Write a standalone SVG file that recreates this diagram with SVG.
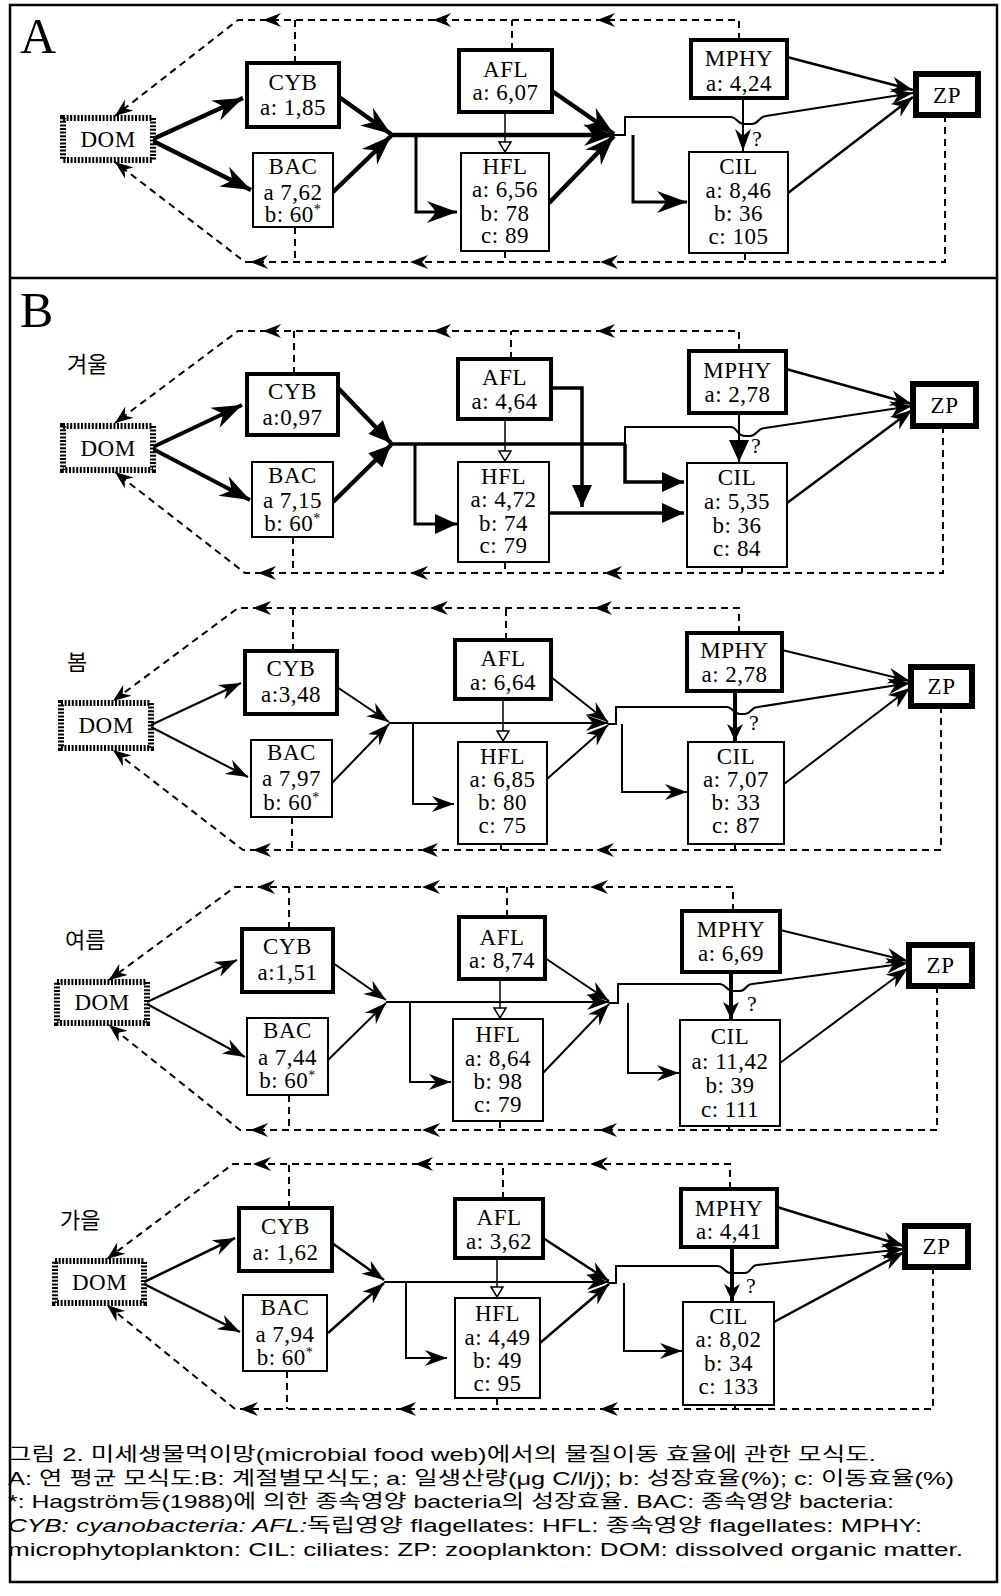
<svg xmlns="http://www.w3.org/2000/svg" xmlns:xlink="http://www.w3.org/1999/xlink" width="1001" height="1596" viewBox="0 0 1001 1596">
<style>
.box{fill:#fff;stroke:#000;stroke-width:2}
.bx2{fill:#fff;stroke:#000;stroke-width:4}
.zp{fill:#fff;stroke:#000;stroke-width:6}
.dom{fill:#fff;stroke:#000;stroke-width:6;stroke-dasharray:2 1.6}
.t{font-family:"Liberation Serif","DejaVu Serif",serif;font-size:23px;letter-spacing:0.5px;text-anchor:middle;fill:#000}
.q{font-family:"Liberation Serif","DejaVu Serif",serif;font-size:22px;text-anchor:middle;fill:#000}
.big{font-family:"Liberation Serif","DejaVu Serif",serif;font-size:50px;fill:#000}
.kr{font-family:"Noto Sans CJK KR",sans-serif;font-size:22px;fill:#000}
.cap{font-family:"Liberation Sans","Noto Sans CJK KR",sans-serif;font-size:19px;fill:#000}
.d{fill:none;stroke:#000;stroke-width:2;stroke-dasharray:7 5}
.s{fill:none;stroke:#000;stroke-width:2}
.s25{fill:none;stroke:#000;stroke-width:2.5}
.s3{fill:none;stroke:#000;stroke-width:3}
.s35{fill:none;stroke:#000;stroke-width:3.5}
.s4{fill:none;stroke:#000;stroke-width:4}
.s45{fill:none;stroke:#000;stroke-width:4.5}
.s15{fill:none;stroke:#000;stroke-width:1.5}
</style>
<defs>
<marker id="mA" viewBox="-32 -13 34 26" refX="0" refY="0" markerWidth="34" markerHeight="26" markerUnits="userSpaceOnUse" orient="auto">
<path d="M0,0 L-30,-11 Q-23,-3 -21,0 Q-23,3 -30,11 Z" fill="#000"/>
</marker>
<marker id="mB" viewBox="-24 -10 26 20" refX="0" refY="0" markerWidth="26" markerHeight="20" markerUnits="userSpaceOnUse" orient="auto">
<path d="M0,0 L-22,-8 Q-17,-2 -15,0 Q-17,2 -22,8 Z" fill="#000"/>
</marker>
<marker id="mT" viewBox="-24 -12 26 24" refX="0" refY="0" markerWidth="26" markerHeight="24" markerUnits="userSpaceOnUse" orient="auto">
<path d="M0,0 L-22,-10 L-22,10 Z" fill="#000"/>
</marker>
<marker id="mF" viewBox="-20 -10 22 20" refX="0" refY="0" markerWidth="22" markerHeight="20" markerUnits="userSpaceOnUse" orient="auto">
<path d="M0,0 L-17,-8 L-12,0 L-17,8 Z" fill="#000"/>
</marker>
<marker id="mV" viewBox="-12 -8 14 16" refX="0" refY="0" markerWidth="14" markerHeight="16" markerUnits="userSpaceOnUse" orient="auto">
<path d="M0,0 L-10,-6 L-10,6 Z" fill="#fff" stroke="#000" stroke-width="1.5"/>
</marker>
<marker id="mD" viewBox="-20 -9 22 18" refX="0" refY="0" markerWidth="22" markerHeight="18" markerUnits="userSpaceOnUse" orient="auto">
<path d="M0,0 L-18,-7 Q-14,-2 -12,0 Q-14,2 -18,7 Z" fill="#000"/>
</marker>
<path id="dh" d="M0,0 L18,-7 Q14,-2 12,0 Q14,2 18,7 Z" fill="#000"/>
</defs>

<rect x="10" y="5" width="987" height="1577" fill="#fff" stroke="#000" stroke-width="2.5"/>
<line x1="10" y1="278" x2="997" y2="278" stroke="#000" stroke-width="2.5"/>
<text class="big" x="20" y="53">A</text>
<text class="big" x="20" y="327">B</text>
<text class="kr" x="67" y="372">겨울</text>
<text class="kr" x="67" y="670">봄</text>
<text class="kr" x="65" y="948">여름</text>
<text class="kr" x="60" y="1228">가을</text>

<!-- ================= connectors ================= -->
<g id="connectors">
<!-- Panel A dashed recycling -->
<path class="d" d="M739,40 V20 H238 L115,116" marker-end="url(#mD)"/>
<path class="d" d="M295,63 V20 M512,50 V20"/>
<path class="d" d="M945,115 V262 H245 L115,162" marker-end="url(#mD)"/>
<path class="d" d="M295,227 V262 M505,251 V262 M745,253 V262"/>
<use xlink:href="#dh" href="#dh" transform="translate(263,20)"/>
<use xlink:href="#dh" href="#dh" transform="translate(433,20)"/>
<use xlink:href="#dh" href="#dh" transform="translate(597,20)"/>
<use xlink:href="#dh" href="#dh" transform="translate(250,262)"/>
<use xlink:href="#dh" href="#dh" transform="translate(410,262)"/>
<use xlink:href="#dh" href="#dh" transform="translate(600,262)"/>
<!-- Panel A solid -->
<path class="s45" d="M153,139 L243,98" marker-end="url(#mA)"/>
<path class="s45" d="M153,141 L251,190" marker-end="url(#mA)"/>
<path class="s45" d="M339,97 L391,134" marker-end="url(#mA)"/>
<path class="s45" d="M333,192 L391,136" marker-end="url(#mA)"/>
<path class="s45" d="M390,135 H614" marker-end="url(#mA)"/>
<path class="s45" d="M552,91 L614,134" marker-end="url(#mA)"/>
<path class="s45" d="M549,203 L614,136" marker-end="url(#mA)"/>
<path class="s3" d="M416,135 V212 H457" marker-end="url(#mA)"/>
<path class="s3" d="M633,135 V202 H687" marker-end="url(#mA)"/>
<path class="s15" d="M505,112 V152" marker-end="url(#mV)"/>
<path class="s" d="M614,135 H625 V117 H731 C737,117 737,124 744,124 H752 C759,124 759,116 766,116 L913,93" marker-end="url(#mB)"/>
<path class="s" d="M743,98 V151" marker-end="url(#mB)"/>
<path class="s25" d="M787,57 L913,90" marker-end="url(#mB)"/>
<path class="s25" d="M788,193 L913,97" marker-end="url(#mB)"/>

<!-- Winter dashed -->
<path class="d" d="M739,351 V331 H238 L115,423" marker-end="url(#mD)"/>
<path class="d" d="M294,374 V331 M511,359 V331"/>
<path class="d" d="M943,426 V573 H245 L115,472" marker-end="url(#mD)"/>
<path class="d" d="M293,537 V573 M505,562 V573 M742,567 V573"/>
<use xlink:href="#dh" href="#dh" transform="translate(263,331)"/>
<use xlink:href="#dh" href="#dh" transform="translate(433,331)"/>
<use xlink:href="#dh" href="#dh" transform="translate(597,331)"/>
<use xlink:href="#dh" href="#dh" transform="translate(258,573)"/>
<use xlink:href="#dh" href="#dh" transform="translate(410,573)"/>
<use xlink:href="#dh" href="#dh" transform="translate(604,573)"/>
<!-- Winter solid -->
<path class="s4" d="M153,447 L242,405" marker-end="url(#mA)"/>
<path class="s4" d="M153,449 L250,500" marker-end="url(#mA)"/>
<path class="s45" d="M338,388 L391,443" marker-end="url(#mT)"/>
<path class="s45" d="M333,502 L391,445" marker-end="url(#mT)"/>
<path class="s35" d="M390,444 H625"/>
<path class="s35" d="M625,444 V482 H684" marker-end="url(#mT)"/>
<path class="s3" d="M415,444 V524 H457" marker-end="url(#mT)"/>
<path class="s35" d="M551,388 H582 V507" marker-end="url(#mT)"/>
<path class="s35" d="M549,513 H684" marker-end="url(#mT)"/>
<path class="s15" d="M505,419 V461" marker-end="url(#mV)"/>
<path class="s" d="M625,444 V427 H731 C737,427 737,436 745,436 H750 C757,436 757,428 765,428 L912,406" marker-end="url(#mB)"/>
<path class="s" d="M739,413 V462" marker-end="url(#mT)"/>
<path class="s25" d="M786,369 L912,404" marker-end="url(#mB)"/>
<path class="s25" d="M787,503 L912,410" marker-end="url(#mB)"/>

<!-- Spring dashed -->
<path class="d" d="M739,633 V608 H238 L113,701" marker-end="url(#mD)"/>
<path class="d" d="M293,651 V608 M506,640 V608"/>
<path class="d" d="M941,706 V850 H243 L113,750" marker-end="url(#mD)"/>
<path class="d" d="M292,817 V850 M501,844 V850 M735,844 V850"/>
<use xlink:href="#dh" href="#dh" transform="translate(253,608)"/>
<use xlink:href="#dh" href="#dh" transform="translate(430,608)"/>
<use xlink:href="#dh" href="#dh" transform="translate(594,608)"/>
<use xlink:href="#dh" href="#dh" transform="translate(253,850)"/>
<use xlink:href="#dh" href="#dh" transform="translate(420,850)"/>
<use xlink:href="#dh" href="#dh" transform="translate(596,850)"/>
<!-- Spring solid -->
<path class="s" d="M151,725 L241,683" marker-end="url(#mB)"/>
<path class="s" d="M151,727 L248,777" marker-end="url(#mB)"/>
<path class="s" d="M337,687 L389,722" marker-end="url(#mB)"/>
<path class="s" d="M332,783 L389,724" marker-end="url(#mB)"/>
<path class="s" d="M389,723 H608" marker-end="url(#mB)"/>
<path class="s" d="M413,723 V804 H454" marker-end="url(#mB)"/>
<path class="s15" d="M503,699 V741" marker-end="url(#mV)"/>
<path class="s" d="M551,677 L608,722" marker-end="url(#mB)"/>
<path class="s" d="M547,779 L608,725" marker-end="url(#mB)"/>
<path class="s" d="M608,724 H616 V707 H727 C733,707 733,714 740,714 H745 C751,714 751,707 758,707 L910,683" marker-end="url(#mB)"/>
<path class="s" d="M622,724 V792 H687" marker-end="url(#mB)"/>
<path class="s4" d="M735,691 V741" marker-end="url(#mF)"/>
<path class="s" d="M782,650 L910,681" marker-end="url(#mB)"/>
<path class="s" d="M784,784 L910,688" marker-end="url(#mB)"/>

<!-- Summer dashed -->
<path class="d" d="M733,911 V887 H235 L109,980" marker-end="url(#mD)"/>
<path class="d" d="M289,929 V887 M507,917 V887"/>
<path class="d" d="M937,986 V1130 H240 L109,1025" marker-end="url(#mD)"/>
<path class="d" d="M289,1095 V1130 M500,1121 V1130 M729,1126 V1130"/>
<use xlink:href="#dh" href="#dh" transform="translate(257,887)"/>
<use xlink:href="#dh" href="#dh" transform="translate(422,887)"/>
<use xlink:href="#dh" href="#dh" transform="translate(590,887)"/>
<use xlink:href="#dh" href="#dh" transform="translate(250,1130)"/>
<use xlink:href="#dh" href="#dh" transform="translate(422,1130)"/>
<use xlink:href="#dh" href="#dh" transform="translate(599,1130)"/>
<!-- Summer solid -->
<path class="s" d="M147,1002 L237,960" marker-end="url(#mB)"/>
<path class="s" d="M147,1004 L245,1057" marker-end="url(#mB)"/>
<path class="s" d="M333,963 L386,1000" marker-end="url(#mB)"/>
<path class="s" d="M328,1060 L386,1003" marker-end="url(#mB)"/>
<path class="s" d="M386,1002 H609" marker-end="url(#mB)"/>
<path class="s" d="M410,1002 V1082 H451" marker-end="url(#mB)"/>
<path class="s15" d="M500,979 V1018" marker-end="url(#mV)"/>
<path class="s" d="M545,958 L609,1001" marker-end="url(#mB)"/>
<path class="s" d="M543,1073 L609,1004" marker-end="url(#mB)"/>
<path class="s" d="M609,1003 H618 V984 H720 C726,984 726,991 733,991 H740 C746,991 746,984 752,984 L908,963" marker-end="url(#mB)"/>
<path class="s" d="M628,1003 V1073 H679" marker-end="url(#mB)"/>
<path class="s4" d="M731,972 V1019" marker-end="url(#mF)"/>
<path class="s" d="M780,930 L908,961" marker-end="url(#mB)"/>
<path class="s" d="M780,1063 L908,968" marker-end="url(#mB)"/>

<!-- Autumn dashed -->
<path class="d" d="M730,1189 V1164 H233 L107,1259" marker-end="url(#mD)"/>
<path class="d" d="M289,1208 V1164 M503,1199 V1164"/>
<path class="d" d="M933,1267 V1409 H235 L107,1305" marker-end="url(#mD)"/>
<path class="d" d="M287,1371 V1409 M497,1398 V1409 M735,1405 V1409"/>
<use xlink:href="#dh" href="#dh" transform="translate(253,1164)"/>
<use xlink:href="#dh" href="#dh" transform="translate(415,1164)"/>
<use xlink:href="#dh" href="#dh" transform="translate(590,1164)"/>
<use xlink:href="#dh" href="#dh" transform="translate(240,1409)"/>
<use xlink:href="#dh" href="#dh" transform="translate(398,1409)"/>
<use xlink:href="#dh" href="#dh" transform="translate(600,1409)"/>
<!-- Autumn solid -->
<path class="s25" d="M144,1282 L235,1238" marker-end="url(#mB)"/>
<path class="s25" d="M144,1284 L240,1332" marker-end="url(#mB)"/>
<path class="s25" d="M332,1243 L384,1280" marker-end="url(#mB)"/>
<path class="s25" d="M328,1333 L384,1283" marker-end="url(#mB)"/>
<path class="s" d="M384,1282 H609" marker-end="url(#mB)"/>
<path class="s" d="M406,1282 V1358 H447" marker-end="url(#mB)"/>
<path class="s15" d="M497,1258 V1297" marker-end="url(#mV)"/>
<path class="s25" d="M543,1238 L609,1281" marker-end="url(#mB)"/>
<path class="s25" d="M540,1343 L609,1284" marker-end="url(#mB)"/>
<path class="s" d="M609,1283 H616 V1266 H718 C724,1266 724,1273 731,1273 H745 C751,1273 751,1265 757,1265 L904,1249" marker-end="url(#mB)"/>
<path class="s" d="M624,1283 V1351 H682" marker-end="url(#mB)"/>
<path class="s4" d="M732,1247 V1301" marker-end="url(#mF)"/>
<path class="s25" d="M777,1207 L904,1246" marker-end="url(#mB)"/>
<path class="s25" d="M774,1322 L904,1252" marker-end="url(#mB)"/>
</g>

<!-- question marks -->
<text class="q" x="757" y="146">?</text>
<text class="q" x="756" y="453">?</text>
<text class="q" x="754" y="730">?</text>
<text class="q" x="752" y="1011">?</text>
<text class="q" x="751" y="1293">?</text>

<!-- ================= nodes: Panel A ================= -->
<g id="A-DOM"><rect class="dom" x="63" y="118" width="90" height="42"/><text class="t" x="108" y="147">DOM</text></g>
<g id="A-CYB"><rect class="bx2" x="247" y="63" width="92" height="64"/><text class="t" x="293" y="90">CYB</text><text class="t" x="293" y="115">a: 1,85</text></g>
<g id="A-BAC"><rect class="box" x="253" y="153" width="80" height="74"/><text class="t" x="293" y="174">BAC</text><text class="t" x="293" y="200">a 7,62</text><text class="t" x="293" y="222">b: 60<tspan font-size="14" dy="-8">*</tspan></text></g>
<g id="A-AFL"><rect class="bx2" x="459" y="50" width="93" height="62"/><text class="t" x="505.5" y="77">AFL</text><text class="t" x="505.5" y="100">a: 6,07</text></g>
<g id="A-HFL"><rect class="box" x="461" y="153" width="88" height="98"/><text class="t" x="505" y="174">HFL</text><text class="t" x="505" y="197">a: 6,56</text><text class="t" x="505" y="221">b: 78</text><text class="t" x="505" y="243">c: 89</text></g>
<g id="A-MPHY"><rect class="bx2" x="691" y="40" width="96" height="58"/><text class="t" x="739" y="66">MPHY</text><text class="t" x="739" y="91">a: 4,24</text></g>
<g id="A-CIL"><rect class="box" x="689" y="152" width="99" height="101"/><text class="t" x="738.5" y="174">CIL</text><text class="t" x="738.5" y="198">a: 8,46</text><text class="t" x="738.5" y="221">b: 36</text><text class="t" x="738.5" y="244">c: 105</text></g>
<g id="A-ZP"><rect class="zp" x="916" y="74" width="62" height="41"/><text class="t" x="947" y="103">ZP</text></g>

<!-- Winter -->
<g id="W-DOM"><rect class="dom" x="63" y="426" width="90" height="44"/><text class="t" x="108" y="456">DOM</text></g>
<g id="W-CYB"><rect class="bx2" x="247" y="374" width="91" height="61"/><text class="t" x="292.5" y="399">CYB</text><text class="t" x="292.5" y="425">a:0,97</text></g>
<g id="W-BAC"><rect class="box" x="252" y="462" width="81" height="75"/><text class="t" x="292.5" y="483">BAC</text><text class="t" x="292.5" y="508">a 7,15</text><text class="t" x="292.5" y="531">b: 60<tspan font-size="14" dy="-8">*</tspan></text></g>
<g id="W-AFL"><rect class="bx2" x="458" y="359" width="93" height="60"/><text class="t" x="504.5" y="385">AFL</text><text class="t" x="504.5" y="409">a: 4,64</text></g>
<g id="W-HFL"><rect class="box" x="458" y="462" width="91" height="100"/><text class="t" x="503.5" y="484">HFL</text><text class="t" x="503.5" y="507">a: 4,72</text><text class="t" x="503.5" y="531">b: 74</text><text class="t" x="503.5" y="553">c: 79</text></g>
<g id="W-MPHY"><rect class="bx2" x="689" y="351" width="97" height="62"/><text class="t" x="737.5" y="378">MPHY</text><text class="t" x="737.5" y="402">a: 2,78</text></g>
<g id="W-CIL"><rect class="box" x="687" y="463" width="100" height="104"/><text class="t" x="737" y="485">CIL</text><text class="t" x="737" y="509">a: 5,35</text><text class="t" x="737" y="533">b: 36</text><text class="t" x="737" y="556">c: 84</text></g>
<g id="W-ZP"><rect class="zp" x="913" y="384" width="63" height="42"/><text class="t" x="944.5" y="413">ZP</text></g>

<!-- Spring -->
<g id="S-DOM"><rect class="dom" x="61" y="703" width="90" height="45"/><text class="t" x="106" y="733">DOM</text></g>
<g id="S-CYB"><rect class="bx2" x="245" y="651" width="92" height="63"/><text class="t" x="291" y="676">CYB</text><text class="t" x="291" y="702">a:3,48</text></g>
<g id="S-BAC"><rect class="box" x="251" y="740" width="81" height="77"/><text class="t" x="291.5" y="760">BAC</text><text class="t" x="291.5" y="786">a 7,97</text><text class="t" x="291.5" y="810">b: 60<tspan font-size="14" dy="-8">*</tspan></text></g>
<g id="S-AFL"><rect class="bx2" x="455" y="640" width="96" height="59"/><text class="t" x="503" y="666">AFL</text><text class="t" x="503" y="690">a: 6,64</text></g>
<g id="S-HFL"><rect class="box" x="458" y="742" width="89" height="102"/><text class="t" x="502.5" y="764">HFL</text><text class="t" x="502.5" y="787">a: 6,85</text><text class="t" x="502.5" y="810">b: 80</text><text class="t" x="502.5" y="833">c: 75</text></g>
<g id="S-MPHY"><rect class="bx2" x="687" y="633" width="95" height="58"/><text class="t" x="734.5" y="658">MPHY</text><text class="t" x="734.5" y="682">a: 2,78</text></g>
<g id="S-CIL"><rect class="box" x="688" y="742" width="96" height="102"/><text class="t" x="736" y="764">CIL</text><text class="t" x="736" y="787">a: 7,07</text><text class="t" x="736" y="810">b: 33</text><text class="t" x="736" y="833">c: 87</text></g>
<g id="S-ZP"><rect class="zp" x="911" y="667" width="61" height="39"/><text class="t" x="941.5" y="694">ZP</text></g>

<!-- Summer -->
<g id="U-DOM"><rect class="dom" x="57" y="982" width="90" height="41"/><text class="t" x="102" y="1010">DOM</text></g>
<g id="U-CYB"><rect class="bx2" x="242" y="929" width="91" height="63"/><text class="t" x="287.5" y="954">CYB</text><text class="t" x="287.5" y="980">a:1,51</text></g>
<g id="U-BAC"><rect class="box" x="247" y="1018" width="81" height="77"/><text class="t" x="287.5" y="1038">BAC</text><text class="t" x="287.5" y="1065">a 7,44</text><text class="t" x="287.5" y="1088">b: 60<tspan font-size="14" dy="-8">*</tspan></text></g>
<g id="U-AFL"><rect class="bx2" x="459" y="917" width="86" height="62"/><text class="t" x="502" y="945">AFL</text><text class="t" x="502" y="968">a: 8,74</text></g>
<g id="U-HFL"><rect class="box" x="453" y="1019" width="90" height="102"/><text class="t" x="498" y="1042">HFL</text><text class="t" x="498" y="1066">a: 8,64</text><text class="t" x="498" y="1089">b: 98</text><text class="t" x="498" y="1112">c: 79</text></g>
<g id="U-MPHY"><rect class="bx2" x="682" y="911" width="98" height="61"/><text class="t" x="731" y="937">MPHY</text><text class="t" x="731" y="961">a: 6,69</text></g>
<g id="U-CIL"><rect class="box" x="680" y="1020" width="100" height="106"/><text class="t" x="730" y="1044">CIL</text><text class="t" x="730" y="1069">a: 11,42</text><text class="t" x="730" y="1093">b: 39</text><text class="t" x="730" y="1117">c: 111</text></g>
<g id="U-ZP"><rect class="zp" x="909" y="945" width="63" height="41"/><text class="t" x="940.5" y="973">ZP</text></g>

<!-- Autumn -->
<g id="F-DOM"><rect class="dom" x="55" y="1261" width="89" height="42"/><text class="t" x="99.5" y="1290">DOM</text></g>
<g id="F-CYB"><rect class="bx2" x="239" y="1208" width="93" height="63"/><text class="t" x="285.5" y="1234">CYB</text><text class="t" x="285.5" y="1260">a: 1,62</text></g>
<g id="F-BAC"><rect class="box" x="243" y="1295" width="84" height="76"/><text class="t" x="285" y="1315">BAC</text><text class="t" x="285" y="1342">a 7,94</text><text class="t" x="285" y="1365">b: 60<tspan font-size="14" dy="-8">*</tspan></text></g>
<g id="F-AFL"><rect class="bx2" x="455" y="1199" width="88" height="59"/><text class="t" x="499" y="1225">AFL</text><text class="t" x="499" y="1249">a: 3,62</text></g>
<g id="F-HFL"><rect class="box" x="455" y="1298" width="85" height="100"/><text class="t" x="497.5" y="1321">HFL</text><text class="t" x="497.5" y="1345">a: 4,49</text><text class="t" x="497.5" y="1368">b: 49</text><text class="t" x="497.5" y="1391">c: 95</text></g>
<g id="F-MPHY"><rect class="bx2" x="681" y="1189" width="96" height="58"/><text class="t" x="729" y="1216">MPHY</text><text class="t" x="729" y="1239">a: 4,41</text></g>
<g id="F-CIL"><rect class="box" x="683" y="1302" width="91" height="103"/><text class="t" x="728.5" y="1324">CIL</text><text class="t" x="728.5" y="1347">a: 8,02</text><text class="t" x="728.5" y="1371">b: 34</text><text class="t" x="728.5" y="1394">c: 133</text></g>
<g id="F-ZP"><rect class="zp" x="905" y="1226" width="63" height="41"/><text class="t" x="936.5" y="1254">ZP</text></g>

<!-- caption -->
<g id="caption">
<text class="cap" x="8" y="1461" textLength="868" lengthAdjust="spacingAndGlyphs">그림 2. 미세생물먹이망(microbial food web)에서의 물질이동 효율에 관한 모식도.</text>
<text class="cap" x="8" y="1485" textLength="946" lengthAdjust="spacingAndGlyphs">A: 연 평균 모식도:B: 계절별모식도; a: 일생산량(μg C/l/j); b: 성장효율(%); c: 이동효율(%)</text>
<text class="cap" x="8" y="1508" textLength="886" lengthAdjust="spacingAndGlyphs">*: Hagström등(1988)에 의한 종속영양 bacteria의 성장효율. BAC: 종속영양 bacteria:</text>
<text class="cap" x="8" y="1532" textLength="914" lengthAdjust="spacingAndGlyphs"><tspan font-style="italic">CYB: cyanobacteria: AFL:</tspan>독립영양 flagellates: HFL: 종속영양 flagellates:  MPHY:</text>
<text class="cap" x="8" y="1556" textLength="955" lengthAdjust="spacingAndGlyphs">microphytoplankton: CIL: ciliates: ZP: zooplankton: DOM: dissolved organic matter.</text>
</g>
</svg>
